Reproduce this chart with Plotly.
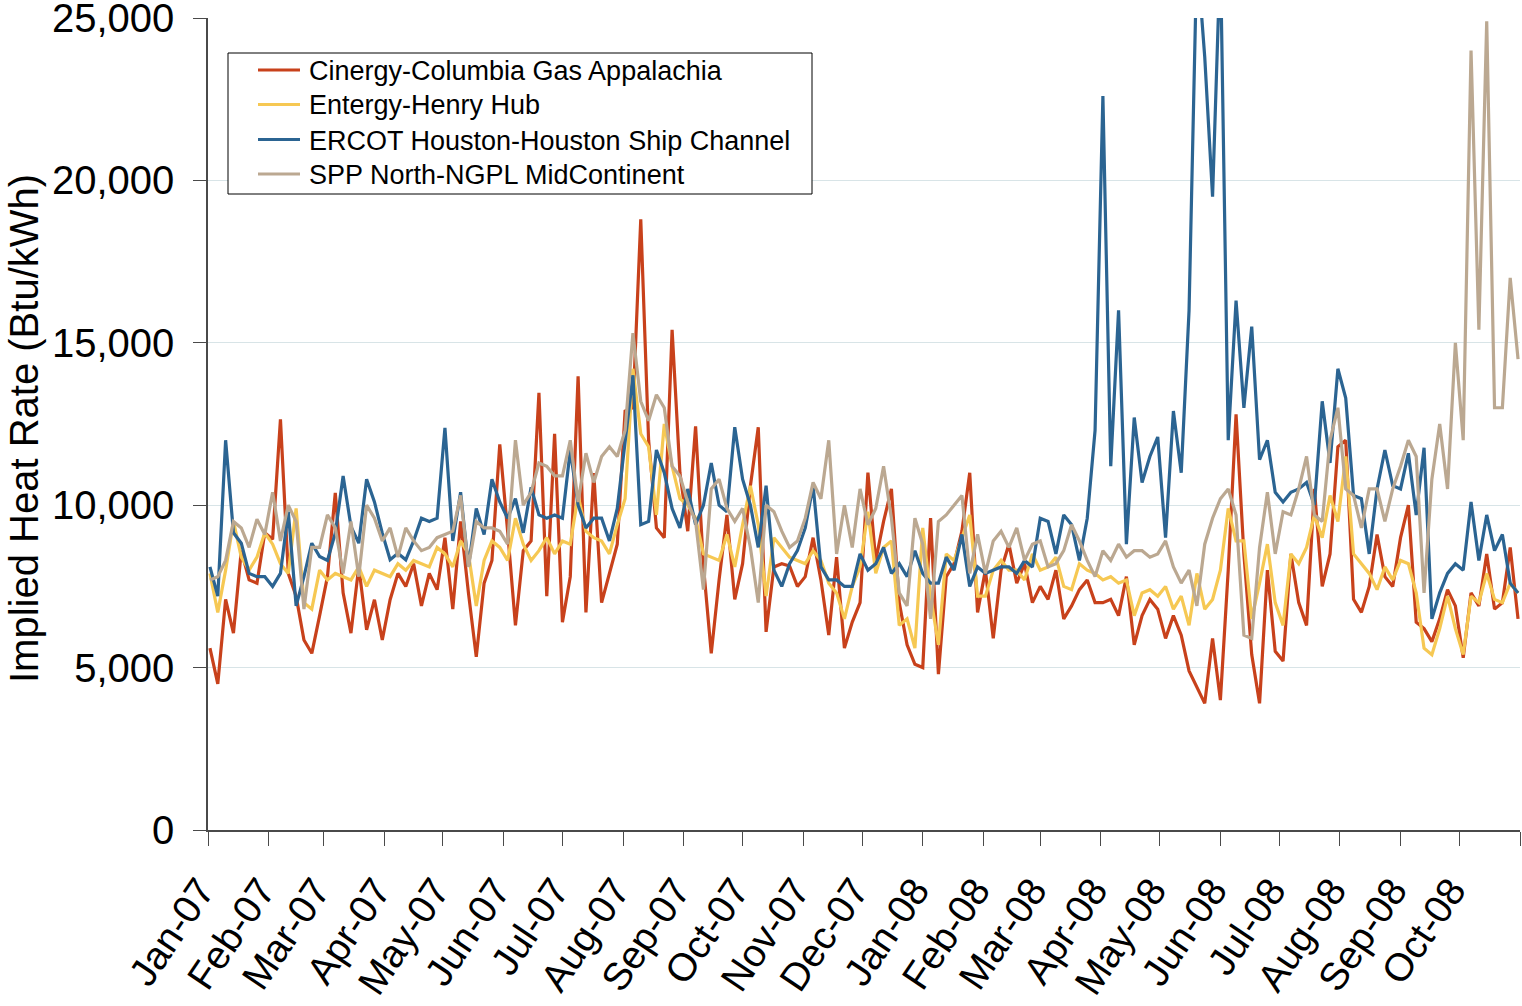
import pandas as pd
import plotly.graph_objects as go

# Sample dates (every 4 days through the period)
dates = pd.date_range("2007-01-02", periods=168, freq="4D")

series_names = [
    "Cinergy-Columbia Gas Appalachia",
    "Entergy-Henry Hub",
    "ERCOT Houston-Houston Ship Channel",
    "SPP North-NGPL MidContinent",
]
series_colors = ["#C8411B", "#F6C853", "#2B6492", "#BBA891"]

cinergy = [
    5600, 4500, 7100, 6060, 8600, 7700, 7600, 9150, 8950, 12640, 7900, 7200, 5850, 5440, 6600, 7800, 10380, 7300, 6060, 8110, 6160, 7090, 5850, 7090, 7900, 7500, 8200,
    6900, 7900, 7400, 9000, 6800, 9500, 7300, 5330, 7600, 8300, 11870, 9200, 6300, 8600, 8900, 13460, 7200, 12200, 6400, 7800, 13970, 6700, 10990, 7000, 7900, 8800, 12900,
    13000, 18800, 12000, 9300, 9000, 15400, 11000, 9200, 12430, 8130, 5440, 7700, 9700, 7100, 8200, 10600, 12400, 6100, 8100, 8200, 8130, 7500, 7800, 9000, 7700, 6000, 8400,
    5600, 6400, 7000, 11000, 8300, 9500, 10500, 7000, 5700, 5100, 5000, 9600, 4800, 7800, 8200, 9200, 11000, 6700, 8000, 5900, 8000, 8800, 7600, 8200, 7000, 7500, 7100, 8000,
    6500, 6900, 7400, 7700, 7000, 7000, 7100, 6600, 7800, 5700, 6600, 7100, 6800, 5900, 6600, 6000, 4900, 4400, 3900, 5900, 4000, 8000, 12800, 8500, 5400, 3900, 8000, 5500, 5200,
    8500, 7000, 6300, 10500, 7500, 8500, 11800, 12000, 7100, 6700, 7500, 9100, 7800, 7500, 9000, 10000, 6400, 6200, 5800, 6500, 7400, 6900, 5300, 7300, 6900, 8500, 6800, 7000, 8700, 6500,
]

entergy = [
    7900, 6700, 8000, 9500, 8400, 8000, 8400, 9150, 8800, 8200, 7900, 9900, 7000, 6800, 8000, 7700, 7900, 7800, 7700, 8100, 7500, 8000, 7900, 7800, 8200, 8000, 8300,
    8200, 8100, 8700, 8500, 8100, 8900, 8500, 6900, 8300, 8900, 8700, 8300, 9600, 8800, 8300, 8600, 9000, 8500, 8900, 8800, 10300, 9200, 9000, 8900, 8500, 9400, 10200,
    14200, 12200, 11800, 9700, 12500, 11200, 10200, 10000, 9600, 8500, 8400, 8300, 9100, 8100, 9400, 10600, 9400, 7200, 9000, 8700, 8400, 8300, 8200, 8600, 8300, 7600, 7300,
    6500, 7500, 8100, 9800, 7900, 8700, 8900, 6300, 6500, 5600, 9300, 7200, 5700, 8500, 8300, 9000, 9700, 7200, 7200, 8000, 8300, 8000, 8000, 7700, 8500, 8000, 8100, 8400,
    7500, 7400, 8200, 8000, 7900, 7700, 7800, 7600, 7700, 6600, 7300, 7400, 7200, 7500, 6800, 7200, 6300, 7900, 6800, 7100, 8000, 9900, 8900, 8900, 6500, 7600, 8800, 7000, 6300,
    8500, 8200, 8700, 9700, 9000, 10300, 9500, 11500, 8500, 8200, 7900, 7400, 8100, 7700, 8300, 8200, 7300, 5600, 5400, 6200, 7200, 6200, 5400, 7200, 7000, 7900, 7100, 7000, 7600, 7300,
]

ercot = [
    8100, 7200, 12000, 9150, 8830, 7900, 7800, 7800, 7500, 7900, 9800, 6900, 7800, 8830, 8420, 8300, 9140, 10900, 9350, 8830, 10800, 10100, 9140, 8320, 8520, 8320, 8900,
    9600, 9500, 9600, 12380, 8900, 10400, 8100, 9900, 9100, 10800, 10100, 9600, 10200, 9150, 10550, 9700, 9600, 9700, 9600, 11700, 10000, 9300, 9600, 9600, 8900, 9900, 12000,
    14000, 9400, 9500, 11700, 11000, 9900, 9300, 10500, 9400, 10000, 11300, 10000, 9800, 12400, 10800, 10000, 8700, 10600, 8000, 7500, 8200, 8600, 9300, 10600, 8100, 7700, 7700,
    7500, 7500, 8500, 8000, 8200, 8700, 7900, 8200, 7800, 8600, 7900, 7600, 7600, 8400, 8000, 9100, 7500, 8100, 7900, 8000, 8100, 8100, 7900, 8300, 8100, 9600, 9500, 8500,
    9700, 9400, 8300, 9600, 12300, 22600, 11200, 16000, 8800, 12700, 10700, 11500, 12100, 9000, 12900, 11000, 16000, 27000, 23800, 19500, 27000, 12000, 16300, 13000, 15500, 11400, 12000, 10400, 10100,
    10400, 10500, 10700, 10000, 13200, 11300, 14200, 13300, 10300, 10200, 8500, 10500, 11700, 10600, 10500, 11600, 9700, 11770, 6500, 7300, 7900, 8200, 8000, 10100, 8300, 9700, 8600, 9100, 7600, 7300,
]

spp = [
    7700, 7800, 8300, 9500, 9300, 8700, 9570, 9100, 10400, 8900, 10000, 9500, 6800, 8700, 8700, 9700, 9300, 7900, 9500, 7800, 10000, 9600, 8900, 9300, 8400, 9300, 8900,
    8600, 8700, 9000, 9100, 9200, 10300, 8100, 9500, 9300, 9300, 9200, 8800, 12000, 10000, 10400, 11300, 11200, 10900, 10900, 12000, 10100, 11600, 10700, 11500, 11800, 11500, 12300,
    15300, 13200, 12600, 13400, 13000, 11200, 10900, 10100, 9500, 7400, 10500, 10800, 9900, 9500, 9900, 8700, 7000, 10000, 9800, 9200, 8700, 8900, 9600, 10700, 10200, 12000, 8500,
    10000, 8700, 10500, 9400, 9900, 11200, 9600, 7300, 6900, 9600, 8800, 6500, 9500, 9700, 10000, 10300, 7900, 9100, 7900, 8900, 9200, 8700, 9300, 8300, 8800, 8900, 8100, 8200,
    8600, 9400, 8900, 8300, 7800, 8600, 8300, 8800, 8400, 8600, 8600, 8400, 8500, 8900, 8100, 7600, 8000, 6900, 8800, 9600, 10200, 10500, 9700, 6000, 5900, 8700, 10400, 8500, 9800,
    9700, 10500, 11500, 9700, 9500, 12000, 13000, 10500, 10300, 9300, 10500, 10500, 9500, 10500, 11200, 12000, 11500, 7300, 10800, 12500, 10500, 15000, 12000, 24000, 15400, 24900, 13000, 13000, 17000, 14500,
]

y_ticks = [0, 5000, 10000, 15000, 20000, 25000]
month_ticks = pd.date_range("2007-01-01", "2008-11-01", freq="MS")
month_labels = [d.strftime("%b-%y") for d in month_ticks[:-1]] + [""]
y_title = "Implied Heat Rate (Btu/kWh)"

fig = go.Figure()
for name, vals, col in zip(series_names, [cinergy, entergy, ercot, spp], series_colors):
    fig.add_trace(go.Scatter(x=dates, y=vals, mode="lines", name=name,
                             line=dict(color=col, width=3.2), showlegend=False))

FONT = "Liberation Sans, Arial, sans-serif"
W, H = 1522, 1006
L, R, T, B = 208, 2, 18, 176
PW, PH = W - L - R, H - T - B

def px_x(sx):
    return (sx - L) / PW

def px_y(sy):
    return (H - B - sy) / PH

# Legend drawn as a boxed key inside the plot
shapes = [dict(type="rect", xref="paper", yref="paper",
               x0=px_x(228), x1=px_x(812), y0=px_y(194), y1=px_y(53),
               line=dict(color="black", width=1), fillcolor="white", layer="above")]
annotations = []
row_y = [70, 104.5, 139.5, 174]
for name, col, ry in zip(series_names, series_colors, row_y):
    shapes.append(dict(type="line", xref="paper", yref="paper",
                       x0=px_x(258), x1=px_x(300), y0=px_y(ry), y1=px_y(ry),
                       line=dict(color=col, width=3), layer="above"))
    annotations.append(dict(text=name, xref="paper", yref="paper",
                            x=px_x(307), y=px_y(ry + 1), xanchor="left", yanchor="middle",
                            showarrow=False, font=dict(size=27, family=FONT, color="black")))

# Y axis title as rotated text at the far left
annotations.append(dict(text=y_title, xref="paper", yref="paper", textangle=-90,
                        x=px_x(0), y=px_y(429), xanchor="left", yanchor="middle",
                        showarrow=False, font=dict(size=40, family=FONT, color="black")))

fig.update_layout(
    width=W, height=H,
    margin=dict(l=L, r=R, t=T, b=B),
    paper_bgcolor="white", plot_bgcolor="white",
    font=dict(family=FONT, color="black"),
    showlegend=False,
    shapes=shapes,
    annotations=annotations,
    xaxis=dict(type="date", range=["2007-01-01", "2008-11-01"],
               tickmode="array", tickvals=month_ticks, ticktext=month_labels,
               tickangle=-56, tickfont=dict(size=39, family=FONT, color="black"),
               showgrid=False, zeroline=False, showline=True, linecolor="#4A4A4A",
               linewidth=1.5, ticks="outside", ticklen=14, tickcolor="#4A4A4A",
               ticklabelstandoff=6, ticklabelshift=-8, ticklabeloverflow="allow",
               automargin=False),
    yaxis=dict(range=[0, 25000], tickmode="array", tickvals=y_ticks, tickformat=",",
               tickfont=dict(size=40, family=FONT, color="black"),
               showgrid=True, gridcolor="#D8E4E7", gridwidth=1, zeroline=False,
               showline=True, linecolor="#4A4A4A", linewidth=1.5,
               ticks="outside", ticklen=13, tickcolor="#4A4A4A",
               ticklabelstandoff=11, ticklabeloverflow="allow", automargin=False),
)

fig.write_html("out.html", config={"displayModeBar": False},
               post_script="document.body.style.margin='0';document.body.style.overflow='hidden';")
